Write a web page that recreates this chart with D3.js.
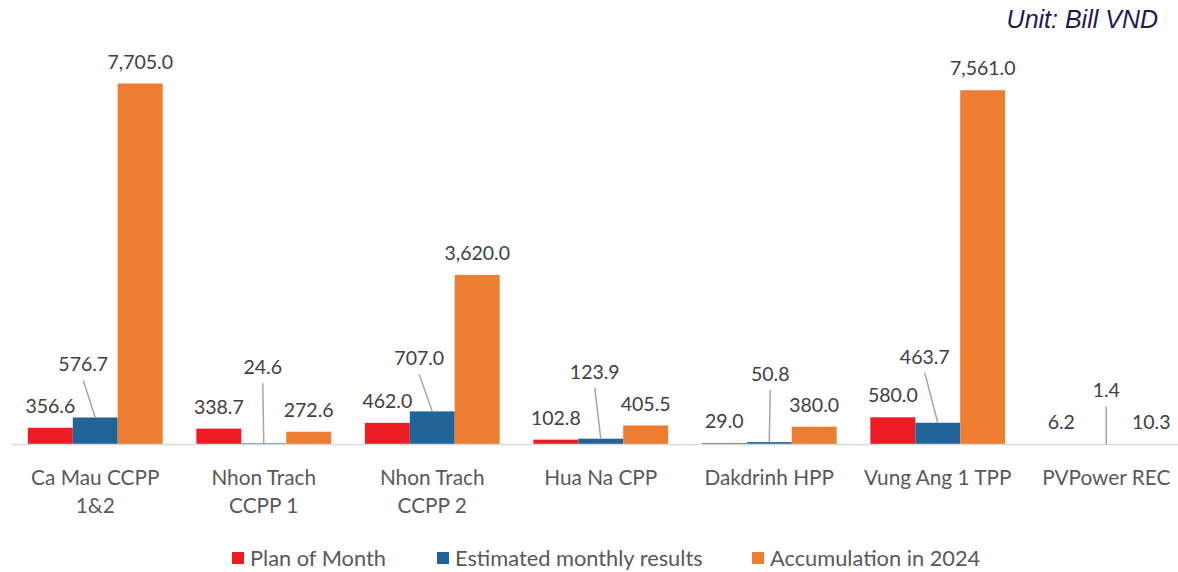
<!DOCTYPE html>
<html>
<head>
<meta charset="utf-8">
<script src="https://cdn.jsdelivr.net/npm/d3@7"></script>
<style>
  html, body { margin: 0; padding: 0; background: #ffffff; }
  svg { display: block; }
</style>
</head>
<body>
<svg id="chart" width="1178" height="572"></svg>
<script>
// ---- data ----
const categories = [
  ["Ca Mau CCPP", "1&2"],
  ["Nhon Trach", "CCPP 1"],
  ["Nhon Trach", "CCPP 2"],
  ["Hua Na CPP"],
  ["Dakdrinh HPP"],
  ["Vung Ang 1 TPP"],
  ["PVPower REC"]
];
const seriesNames = ["Plan of Month", "Estimated monthly results", "Accumulation in 2024"];
const planOfMonth = [356.6, 338.7, 462.0, 102.8, 29.0, 580.0, 6.2];
const estimatedResults = [576.7, 24.6, 707.0, 123.9, 50.8, 463.7, 1.4];
const accumulation2024 = [7705.0, 272.6, 3620.0, 405.5, 380.0, 7561.0, 10.3];
const unitLabel = "Unit: Bill VND";

// ---- styling / layout (not data) ----
const colors = ["#ed1c24", "#216598", "#ed7d31"];
// manual placement of the "Estimated" labels (dx from bar centre, lift above bar top)
const estLabelDx = [-12, -1, -13, -6, 1, -13, 0];
const estLabelLift = [53, 76, 53, 67, 68, 66, 54];

const W = 1178, H = 572;
const svg = d3.select("#chart");
const baseY = 444.5;

const x0 = d3.scaleBand()
  .domain(d3.range(categories.length))
  .range([11, 1190.5])
  .paddingInner(0.2)
  .paddingOuter(0.1);
const x1 = d3.scaleBand()
  .domain(d3.range(seriesNames.length))
  .range([0, x0.bandwidth()]);
const y = d3.scaleLinear().domain([0, 8000]).range([baseY, baseY - 8000 * 361 / 7705]);

const seriesValues = [planOfMonth, estimatedResults, accumulation2024];
const fmt = d3.format(",.1f");

// bars
const groups = svg.append("g").selectAll("g")
  .data(categories.map((c, i) => i))
  .join("g")
  .attr("transform", i => `translate(${x0(i)},0)`);

groups.selectAll("rect")
  .data(i => seriesValues.map((vals, s) => ({ s, v: vals[i], i })))
  .join("rect")
  .attr("x", d => x1(d.s))
  .attr("width", x1.bandwidth())
  .attr("y", d => y(d.v))
  .attr("height", d => baseY - y(d.v))
  .attr("fill", d => colors[d.s]);

// baseline axis
const xAxis = d3.axisBottom(x0).tickSize(0).tickFormat(() => "");
const axG = svg.append("g").attr("transform", `translate(0,${baseY})`).call(xAxis);
axG.select(".domain").attr("stroke", "#d9d9d9").attr("stroke-width", 1.5).attr("d", "M11,0H1190");

// category labels
const catG = svg.append("g")
  .attr("font-family", "Lato, 'Open Sans', sans-serif")
  .attr("font-size", 20.8)
  .attr("fill", "#595959")
  .attr("text-anchor", "middle");
categories.forEach((lines, i) => {
  const cx = x0(i) + x0.bandwidth() / 2;
  const t = catG.append("text").attr("x", cx).attr("y", 484.5);
  lines.forEach((ln, k) => {
    t.append("tspan").attr("x", cx).attr("dy", k === 0 ? 0 : 28).text(ln);
  });
});

// data labels
const lblG = svg.append("g")
  .attr("font-family", "Lato, 'Open Sans', sans-serif")
  .attr("font-size", 19.5)
  .attr("fill", "#404040")
  .attr("text-anchor", "middle");

[0, 2].forEach(s => {
  seriesValues[s].forEach((v, i) => {
    const cx = x0(i) + x1(s) + x1.bandwidth() / 2;
    lblG.append("text")
      .attr("x", cx)
      .attr("y", y(v) - 15)
      .text(fmt(v));
  });
});

// estimated labels with leader lines
estimatedResults.forEach((v, i) => {
  const cx = x0(i) + x1(1) + x1.bandwidth() / 2;
  const top = y(v);
  const lx = cx + estLabelDx[i];
  const ly = top - estLabelLift[i];
  svg.append("line")
    .attr("x1", lx).attr("y1", ly + 16)
    .attr("x2", cx).attr("y2", top)
    .attr("stroke", "#a6a6a6").attr("stroke-width", 1.5);
  lblG.append("text")
    .attr("x", lx)
    .attr("y", ly + 7)
    .text(fmt(v));
});

// unit label
svg.append("text")
  .attr("x", 1158).attr("y", 28)
  .attr("text-anchor", "end")
  .attr("font-family", "'Liberation Sans', Arial, sans-serif")
  .attr("font-style", "italic")
  .attr("font-size", 25)
  .attr("fill", "#211a52")
  .text(unitLabel);

// legend
const legendX = [232, 437, 752];
const leg = svg.append("g")
  .attr("font-family", "Lato, 'Open Sans', sans-serif")
  .attr("font-size", 21.8)
  .attr("fill", "#595959");
seriesNames.forEach((name, s) => {
  leg.append("rect").attr("x", legendX[s]).attr("y", 552).attr("width", 12).attr("height", 12).attr("fill", colors[s]);
  leg.append("text").attr("x", legendX[s] + 18).attr("y", 566).text(name);
});
</script>
</body>
</html>
